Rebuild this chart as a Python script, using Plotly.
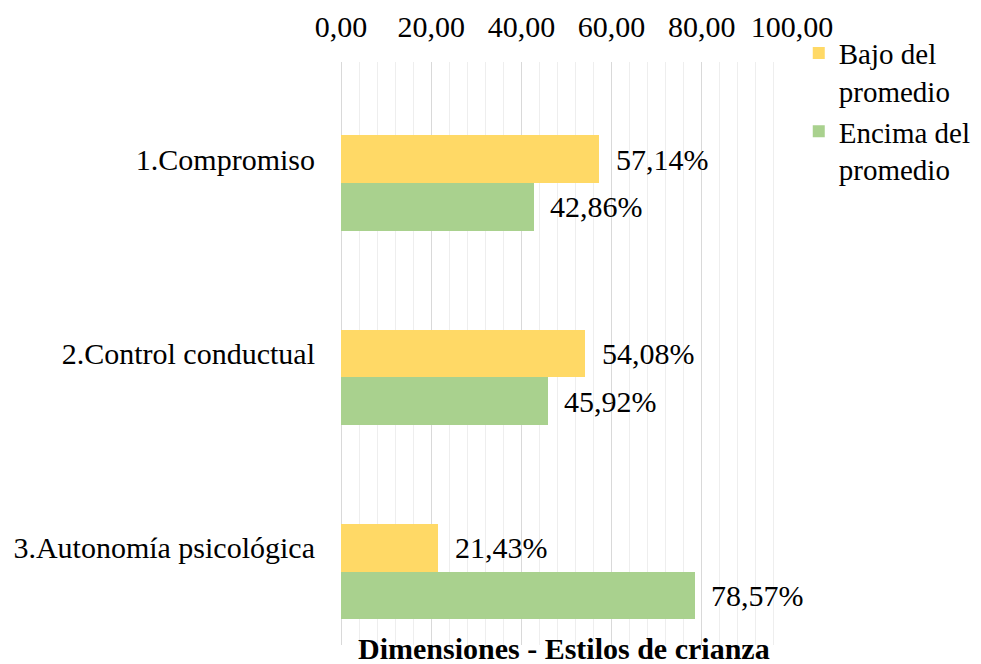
import plotly.graph_objects as go

categories = ["1.Compromiso", "2.Control conductual", "3.Autonomía psicológica"]
bajo = [57.14, 54.08, 21.43]
encima = [42.86, 45.92, 78.57]
series_names = ["Bajo del<br>promedio", "Encima del<br>promedio"]
tick_vals = [0, 20, 40, 60, 80, 100]
tick_text = ["0,00", "20,00", "40,00", "60,00", "80,00", "100,00"]
axis_title = "Dimensiones - Estilos de crianza"

FONT = "Times New Roman"
FS = 30
YELLOW = "#FFD966"
GREEN = "#A9D18E"
BW = 0.2455  # bar width in category units

fig = go.Figure()
fig.add_trace(go.Bar(y=categories, x=bajo, orientation="h", name=series_names[0],
                     marker=dict(color=YELLOW, line=dict(width=0)),
                     width=BW, offset=-BW / 2))
fig.add_trace(go.Bar(y=categories, x=encima, orientation="h", name=series_names[1],
                     marker=dict(color=GREEN, line=dict(width=0)),
                     width=BW, offset=BW / 2))

def fmt(v):
    return f"{v:.2f}".replace(".", ",") + "%"

annotations = []
for i, v in enumerate(bajo):
    annotations.append(dict(x=v, y=i, xref="x", yref="y", text=fmt(v), showarrow=False,
                            xanchor="left", yanchor="middle", xshift=15,
                            font=dict(family=FONT, size=FS, color="black")))
for i, v in enumerate(encima):
    annotations.append(dict(x=v, y=i + BW, xref="x", yref="y", text=fmt(v), showarrow=False,
                            xanchor="left", yanchor="middle", xshift=14,
                            font=dict(family=FONT, size=FS, color="black")))
annotations.append(dict(x=0.5, y=0, xref="paper", yref="paper", text="<b>" + axis_title + "</b>",
                        showarrow=False, xanchor="center", yanchor="top", xshift=-3, yshift=15,
                        font=dict(family=FONT, size=FS, color="black")))

fig.update_layout(
    width=981, height=664,
    margin=dict(l=341, r=189, t=62, b=19, autoexpand=False),
    paper_bgcolor="white", plot_bgcolor="white",
    font=dict(family=FONT, size=FS, color="black"),
    showlegend=True,
    legend=dict(x=1.015, y=1.059, xanchor="left", yanchor="top", valign="top",
                font=dict(family=FONT, size=29, color="black"),
                bgcolor="rgba(0,0,0,0)", tracegroupgap=0),
    annotations=annotations,
    bargap=0,
)
fig.update_xaxes(side="top", range=[0, 100], tickvals=tick_vals, ticktext=tick_text,
                 automargin=False,
                 showgrid=True, gridcolor="#D9D9D9", gridwidth=1,
                 zeroline=True, zerolinecolor="#D9D9D9", zerolinewidth=1,
                 showline=False, ticks="outside", ticklen=12, tickcolor="rgba(0,0,0,0)",
                 tickfont=dict(family=FONT, size=FS, color="black"),
                 minor=dict(dtick=4, tick0=0, showgrid=True, gridcolor="#EEEEEE", gridwidth=1))
fig.update_yaxes(type="category", autorange="reversed", automargin=False,
                 showgrid=False, showline=False, zeroline=False,
                 ticks="outside", ticklen=19, tickcolor="rgba(0,0,0,0)",
                 tickfont=dict(family=FONT, size=FS, color="black"))

fig.write_html("out.html", config={"displayModeBar": False},
               post_script="document.body.style.margin='0';document.body.style.padding='0';")
